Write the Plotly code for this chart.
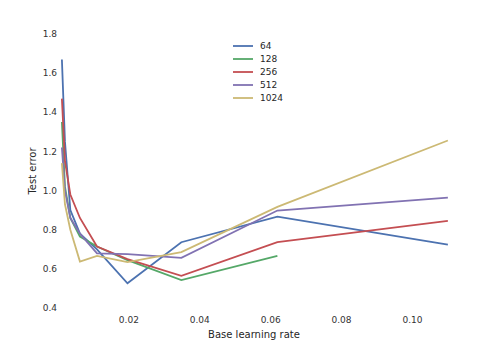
import plotly.graph_objects as go

# Base learning rates (half-decade steps)
learning_rates = [0.0011, 0.00196, 0.00348, 0.00619, 0.011, 0.0196, 0.0348, 0.0619, 0.11]

# Test error for each batch size
err_64 = [1.67, 1.25, 0.90, 0.78, 0.70, 0.526, 0.736, 0.867, 0.724]
err_128 = [1.35, 1.02, 0.86, 0.765, 0.714, 0.645, 0.543, 0.666]
err_256 = [1.47, 1.15, 0.98, 0.86, 0.714, 0.65, 0.564, 0.737, 0.845]
err_512 = [1.22, 1.00, 0.86, 0.78, 0.679, 0.675, 0.656, 0.898, 0.964]
err_1024 = [1.14, 0.93, 0.80, 0.637, 0.666, 0.634, 0.686, 0.917, 1.256]

series_names = ["64", "128", "256", "512", "1024"]
series_values = [err_64, err_128, err_256, err_512, err_1024]
colors = ["#4C72B0", "#55A868", "#C44E52", "#8172B2", "#CCB974"]

x_ticks = [0.02, 0.04, 0.06, 0.08, 0.10]
x_tick_labels = ["0.02", "0.04", "0.06", "0.08", "0.10"]
y_ticks = [0.4, 0.6, 0.8, 1.0, 1.2, 1.4, 1.6, 1.8]
y_tick_labels = ["0.4", "0.6", "0.8", "1.0", "1.2", "1.4", "1.6", "1.8"]

W, H = 500, 344
ML, MR, MT, MB = 58, 50, 34, 36
PW, PH = W - ML - MR, H - MT - MB


def px_x(px):
    return (px - ML) / PW


def px_y(py):
    return (H - MB - py) / PH


fig = go.Figure()
for name, vals, col in zip(series_names, series_values, colors):
    fig.add_trace(go.Scatter(
        x=learning_rates[:len(vals)], y=vals, mode="lines", name=name,
        line=dict(color=col, width=1.8), showlegend=False,
    ))

# Compact legend: short line sample plus label per series
shapes, annotations = [], []
for i, (name, col) in enumerate(zip(series_names, colors)):
    row_y = 46 + 13 * i
    shapes.append(dict(
        type="line", xref="paper", yref="paper",
        x0=px_x(233), x1=px_x(253), y0=px_y(row_y), y1=px_y(row_y),
        line=dict(color=col, width=1.8),
    ))
    annotations.append(dict(
        xref="paper", yref="paper", x=px_x(258), y=px_y(row_y),
        xanchor="left", yanchor="middle", text=name, showarrow=False,
        font=dict(size=9, color="#262626"),
    ))

fig.update_layout(
    width=W, height=H,
    margin=dict(l=ML, r=MR, t=MT, b=MB),
    paper_bgcolor="white", plot_bgcolor="white",
    font=dict(family="DejaVu Sans", size=9, color="#333333"),
    showlegend=False,
    shapes=shapes, annotations=annotations,
    xaxis=dict(
        range=[0, 0.1106], tickvals=x_ticks, ticktext=x_tick_labels,
        showgrid=False, zeroline=False, showline=False, ticks="",
        title=dict(text="Base learning rate", font=dict(size=10, color="#262626"), standoff=6),
        ticklabelstandoff=5, tickfont=dict(size=9), automargin=False,
    ),
    yaxis=dict(
        range=[0.4, 1.8], tickvals=y_ticks, ticktext=y_tick_labels,
        showgrid=False, zeroline=False, showline=False, ticks="",
        title=dict(text="Test error", font=dict(size=10, color="#262626"), standoff=4),
        ticklabelstandoff=0, tickfont=dict(size=9), automargin=False,
    ),
)

fig.write_html("out.html")
